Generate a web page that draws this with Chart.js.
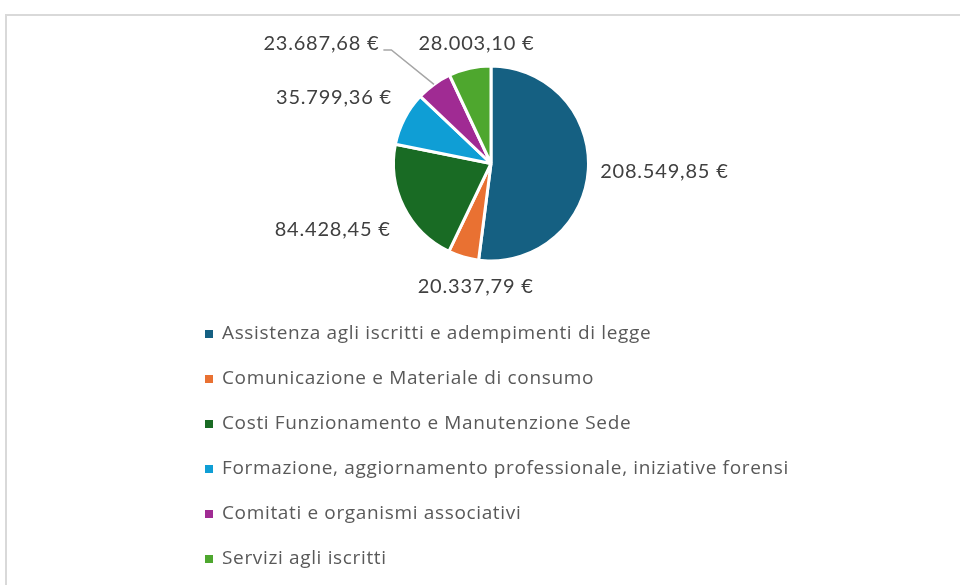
<!DOCTYPE html>
<html>
<head>
<meta charset="utf-8">
<script src="https://cdn.jsdelivr.net/npm/chart.js@4.4.1/dist/chart.umd.min.js"></script>
<style>
  html, body { margin: 0; padding: 0; background: #fff; }
  #frame { position: absolute; left: 5px; top: 14px; width: 1000px; height: 600px; border: 2px solid #d9d9d9; box-sizing: border-box; }
  #myChart { position: absolute; left: 0; top: 0; }
</style>
</head>
<body>
<div id="frame"></div>
<canvas id="myChart" width="960" height="585"></canvas>
<script>
const categories = [
    'Assistenza agli iscritti e adempimenti di legge',
    'Comunicazione e Materiale di consumo',
    'Costi Funzionamento e Manutenzione Sede',
    'Formazione, aggiornamento professionale, iniziative forensi',
    'Comitati e organismi associativi',
    'Servizi agli iscritti'
];
const amounts = [208549.85, 20337.79, 84428.45, 35799.36, 23687.68, 28003.10];
const sliceColors = ['#156082', '#E97132', '#196B24', '#0F9ED5', '#A02B93', '#4EA72E'];

// small nudges to mimic where Excel put each data label
const labelNudge = [[4, 1], [31, 11], [-12, 14], [-12, -12], [-74, -25], [21, -6]];
const leaderFor = [false, false, false, false, true, false];

function euro(v) {
    let parts = v.toFixed(2).split('.');
    parts[0] = parts[0].replace(/\B(?=(\d{3})+(?!\d))/g, '.');
    return parts[0] + ',' + parts[1] + ' €';
}

const valueLabels = {
    id: 'valueLabels',
    afterDatasetsDraw(chart) {
        const ctx = chart.ctx;
        const meta = chart.getDatasetMeta(0);
        ctx.save();
        ctx.font = '20px Lato';
        ctx.letterSpacing = '0.8px';
        ctx.fillStyle = '#404040';
        ctx.textAlign = 'center';
        ctx.textBaseline = 'middle';
        meta.data.forEach((arc, i) => {
            const p = arc.getProps(['x', 'y', 'startAngle', 'endAngle', 'outerRadius'], true);
            const mid = (p.startAngle + p.endAngle) / 2;
            const dx = Math.cos(mid), dy = Math.sin(mid);
            const ax = p.x + dx * (p.outerRadius + 8);
            const ay = p.y + dy * (p.outerRadius + 8);
            const txt = euro(amounts[i]);
            const w = ctx.measureText(txt).width, h = 22;
            const cx = ax + dx * w / 2 + labelNudge[i][0];
            const cy = ay + dy * h / 2 + labelNudge[i][1];
            if (leaderFor[i]) {
                ctx.strokeStyle = '#a6a6a6';
                ctx.lineWidth = 1.5;
                ctx.beginPath();
                ctx.moveTo(p.x + dx * p.outerRadius, p.y + dy * p.outerRadius);
                ctx.lineTo(cx + w / 2 + 12, cy + 6);
                ctx.lineTo(cx + w / 2 + 4, cy + 6);
                ctx.stroke();
            }
            ctx.fillText(txt, cx, cy);
        });
        ctx.restore();
    }
};

const listLegend = {
    id: 'listLegend',
    afterDraw(chart) {
        const ctx = chart.ctx;
        const items = Chart.overrides.pie.plugins.legend.labels.generateLabels(chart);
        ctx.save();
        ctx.font = '19px "Open Sans"';
        ctx.letterSpacing = '0.65px';
        ctx.textBaseline = 'middle';
        ctx.textAlign = 'left';
        items.forEach((it, i) => {
            const y = 334 + i * 45;
            ctx.fillStyle = it.fillStyle;
            ctx.fillRect(205, y - 4, 8, 8);
            ctx.fillStyle = '#595959';
            ctx.fillText(it.text, 222, y);
        });
        ctx.restore();
    }
};

new Chart(document.getElementById('myChart').getContext('2d'), {
    type: 'pie',
    data: {
        labels: categories,
        datasets: [{
            data: amounts,
            backgroundColor: sliceColors,
            borderColor: '#ffffff',
            borderWidth: 3
        }]
    },
    options: {
        responsive: false,
        animation: false,
        layout: { padding: { top: 63, bottom: 321, left: 392, right: 370 } },
        plugins: {
            legend: { display: false },
            tooltip: { enabled: false }
        }
    },
    plugins: [valueLabels, listLegend]
});
</script>
</body>
</html>
